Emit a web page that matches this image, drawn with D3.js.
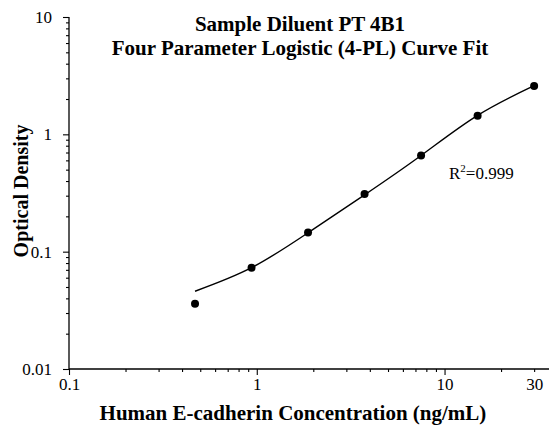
<!DOCTYPE html>
<html>
<head>
<meta charset="utf-8">
<script src="https://cdn.jsdelivr.net/npm/d3@7"></script>
<style>
  body { margin: 0; background: #fff; }
  text { font-family: "Liberation Serif", "Times New Roman", serif; fill: #000; }
</style>
</head>
<body>
<div id="chart"></div>
<script>
  const width = 549;
  const height = 428;

  // standard concentrations (ng/mL) and measured OD
  const conc = [0.469, 0.938, 1.875, 3.75, 7.5, 15, 30];
  const od = [0.036, 0.073, 0.146, 0.31, 0.66, 1.44, 2.58];
  // fitted 4-PL curve
  const fitConc = [0.469, 0.938, 1.875, 3.75, 7.5, 15, 30];
  const fitOd = [0.046, 0.073, 0.145, 0.305, 0.66, 1.45, 2.6];

  const xTickLabels = [0.1, 1, 10, 30];
  const yTickLabels = [0.01, 0.1, 1, 10];

  const margin = {left: 69, top: 17, right: 0, bottom: 59};

  const svg = d3.select("#chart")
    .append("svg")
    .attr("width", width)
    .attr("height", height);

  const x = d3.scaleLog()
    .domain([0.1, 36])
    .range([margin.left, width - margin.right]);

  const y = d3.scaleLog()
    .domain([0.01, 10])
    .range([height - margin.bottom, margin.top]);

  // minor ticks
  let xMinor = [];
  for (let dec of [0.1, 1, 10]) {
    for (let i = 2; i <= 9; i++) {
      if (dec * i < 36) xMinor.push(dec * i);
    }
  }
  let yMinor = [];
  for (let dec of [0.01, 0.1, 1]) {
    for (let i = 2; i <= 9; i++) yMinor.push(dec * i);
  }

  const xAxisG = svg.append("g")
    .attr("transform", `translate(0,${y(0.01)})`);

  xAxisG.call(d3.axisBottom(x)
      .tickValues(xMinor)
      .tickSize(3)
      .tickFormat(""))
    .call(g => g.select(".domain").remove());

  xAxisG.append("g")
    .call(d3.axisBottom(x)
      .tickValues([0.1, 1, 10])
      .tickSize(6)
      .tickFormat(""))
    .call(g => g.select(".domain").remove());

  xAxisG.append("g")
    .call(d3.axisBottom(x)
      .tickValues(xTickLabels)
      .tickSize(0)
      .tickPadding(9)
      .tickFormat(d => d))
    .call(g => g.select(".domain").remove())
    .selectAll("text")
    .style("font-size", "17px");

  xAxisG.append("line")
    .attr("x1", x(0.1)).attr("x2", width)
    .attr("stroke", "#000").attr("stroke-width", 1.3);

  const yAxisG = svg.append("g")
    .attr("transform", `translate(${x(0.1)},0)`);

  yAxisG.call(d3.axisLeft(y)
      .tickValues(yMinor)
      .tickSize(3)
      .tickFormat(""))
    .call(g => g.select(".domain").remove());

  yAxisG.append("g")
    .call(d3.axisLeft(y)
      .tickValues(yTickLabels)
      .tickSize(6)
      .tickPadding(11)
      .tickFormat(d => d))
    .call(g => g.select(".domain").remove())
    .selectAll("text")
    .style("font-size", "17px");

  yAxisG.append("line")
    .attr("y1", y(0.01)).attr("y2", y(10))
    .attr("stroke", "#000").attr("stroke-width", 1.3);

  svg.selectAll(".tick line").attr("stroke", "#000").attr("stroke-width", 1.1);

  // fitted curve
  const line = d3.line()
    .x((d, i) => x(fitConc[i]))
    .y(d => y(d))
    .curve(d3.curveNatural);

  svg.append("path")
    .datum(fitOd)
    .attr("d", line)
    .attr("fill", "none")
    .attr("stroke", "#000")
    .attr("stroke-width", 1.4);

  svg.selectAll("circle.pt")
    .data(od)
    .join("circle")
    .attr("class", "pt")
    .attr("cx", (d, i) => x(conc[i]))
    .attr("cy", d => y(d))
    .attr("r", 4)
    .attr("fill", "#000");

  // titles
  const title = svg.append("text")
    .attr("text-anchor", "middle")
    .style("font-size", "21px")
    .style("font-weight", "bold");
  title.append("tspan").attr("x", 300).attr("y", 31).text("Sample Diluent PT 4B1");
  title.append("tspan").attr("x", 300).attr("y", 55).text("Four Parameter Logistic (4-PL) Curve Fit");

  svg.append("text")
    .attr("x", 293)
    .attr("y", 420)
    .attr("text-anchor", "middle")
    .style("font-size", "21px")
    .style("font-weight", "bold")
    .text("Human E-cadherin Concentration (ng/mL)");

  svg.append("text")
    .attr("transform", "translate(28,191) rotate(-90)")
    .attr("text-anchor", "middle")
    .style("font-size", "20px")
    .style("font-weight", "bold")
    .text("Optical Density");

  const r2 = svg.append("text")
    .attr("x", 449)
    .attr("y", 179)
    .style("font-size", "17px");
  r2.append("tspan").text("R");
  r2.append("tspan").attr("dy", -7).style("font-size", "11px").text("2");
  r2.append("tspan").attr("dy", 7).text("=0.999");
</script>
</body>
</html>
